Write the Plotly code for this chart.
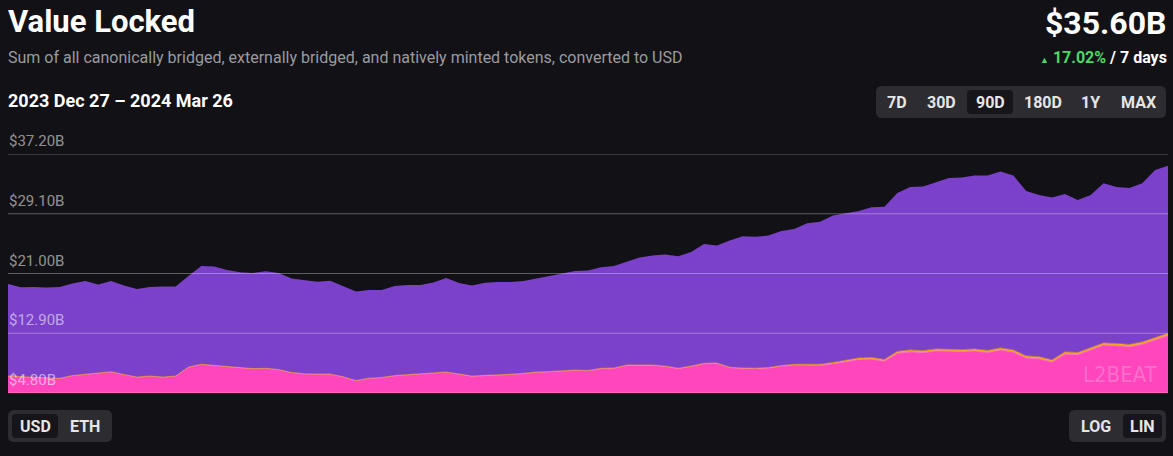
import pandas as pd
import plotly.graph_objects as go

# ---- data (USD billions) ----
dates = pd.date_range("2023-12-27", "2024-03-26", freq="D")

total = [19.58, 19.13, 19.17, 19.10, 19.17, 19.64, 19.98, 19.51, 19.98, 19.37,
         18.90, 19.17, 19.24, 19.24, 20.66, 22.02, 21.95, 21.47, 21.16, 21.07,
         21.31, 21.07, 20.32, 20.08, 19.89, 20.02, 19.31, 18.56, 18.76, 18.76,
         19.31, 19.44, 19.44, 19.78, 20.39, 19.71, 19.37, 19.74, 19.85, 19.85,
         19.98, 20.32, 20.62, 20.96, 21.34, 21.41, 21.84, 22.02, 22.60, 23.17,
         23.44, 23.58, 23.33, 23.91, 25.00, 24.80, 25.47, 26.06, 25.98, 26.15,
         26.76, 27.03, 27.81, 28.02, 28.86, 29.20, 29.47, 29.99, 30.06, 31.91,
         32.73, 32.79, 33.34, 33.95, 34.01, 34.29, 34.29, 34.83, 34.29, 32.18,
         31.64, 31.30, 31.78, 30.96, 31.64, 33.23, 32.73, 32.59, 33.23, 35.03,
         35.60]

lower_total = [7.10, 7.04, 7.01, 6.90, 6.79, 7.17, 7.31, 7.51, 7.69, 7.31,
               6.97, 7.10, 6.97, 7.10, 8.32, 8.70, 8.56, 8.43, 8.19, 8.11,
               8.15, 7.99, 7.58, 7.42, 7.38, 7.38, 7.01, 6.49, 6.81, 6.91,
               7.17, 7.27, 7.35, 7.48, 7.65, 7.38, 7.10, 7.19, 7.24, 7.34,
               7.48, 7.65, 7.71, 7.85, 7.92, 7.86, 8.15, 8.19, 8.60, 8.60,
               8.60, 8.46, 8.16, 8.46, 8.83, 8.87, 8.30, 8.19, 8.16, 8.26,
               8.53, 8.69, 8.69, 8.69, 8.93, 9.23, 9.54, 9.61, 9.34, 10.43,
               10.63, 10.53, 10.76, 10.72, 10.67, 10.76, 10.56, 10.90, 10.63, 9.82,
               9.71, 9.27, 10.36, 10.29, 10.97, 11.58, 11.51, 11.37, 11.71, 12.32,
               12.89]

externally = [0.02, 0.02, 0.02, 0.02, 0.02, 0.02, 0.02, 0.02, 0.02, 0.02,
              0.02, 0.02, 0.02, 0.02, 0.02, 0.02, 0.02, 0.02, 0.02, 0.02,
              0.02, 0.02, 0.02, 0.02, 0.02, 0.02, 0.02, 0.02, 0.02, 0.02,
              0.03, 0.03, 0.03, 0.03, 0.03, 0.03, 0.03, 0.03, 0.03, 0.03,
              0.04, 0.04, 0.04, 0.04, 0.04, 0.04, 0.04, 0.04, 0.05, 0.05,
              0.05, 0.05, 0.05, 0.05, 0.06, 0.06, 0.06, 0.06, 0.06, 0.07,
              0.08, 0.10, 0.12, 0.14, 0.16, 0.18, 0.20, 0.21, 0.22, 0.24,
              0.25, 0.25, 0.25, 0.26, 0.26, 0.26, 0.26, 0.27, 0.27, 0.27,
              0.27, 0.27, 0.28, 0.28, 0.28, 0.29, 0.29, 0.29, 0.30, 0.30,
              0.30]

natively = [lt - e for lt, e in zip(lower_total, externally)]
canonically = [t - lt for t, lt in zip(total, lower_total)]

tick_vals = [4.80, 12.90, 21.00, 29.10, 37.20]
tick_text = ["$4.80B", "$12.90B", "$21.00B", "$29.10B", "$37.20B"]
range_buttons = ["7D", "30D", "90D", "180D", "1Y", "MAX"]
range_button_x = [897, 941, 990, 1043, 1090, 1138]
unit_buttons = ["USD", "ETH"]
unit_button_x = [35, 85]
scale_buttons = ["LOG", "LIN"]
scale_button_x = [1096, 1142]

# ---- layout geometry (pixels) ----
W, H = 1173, 456
L, R, T, B = 8, 5, 154, 63
PW, PH = W - L - R, H - T - B
BG = "#121116"
FONT = "Roboto"


def px(x):
    return (x - L) / PW


def py(y):
    return (H - B - y) / PH


def rrect(x0, y0, x1, y1, r, fill):
    ax0, ax1 = px(x0), px(x1)
    ay0, ay1 = py(y0), py(y1)  # ay0 top (larger)
    rx, ry = r / PW, r / PH
    path = (f"M {ax0+rx},{ay0} L {ax1-rx},{ay0} Q {ax1},{ay0} {ax1},{ay0-ry} "
            f"L {ax1},{ay1+ry} Q {ax1},{ay1} {ax1-rx},{ay1} L {ax0+rx},{ay1} "
            f"Q {ax0},{ay1} {ax0},{ay1+ry} L {ax0},{ay0-ry} Q {ax0},{ay0} {ax0+rx},{ay0} Z")
    return dict(type="path", xref="paper", yref="paper", path=path,
                fillcolor=fill, line=dict(width=0), layer="above")


fig = go.Figure()
fig.add_trace(go.Scatter(x=dates, y=natively, stackgroup="s", name="Natively minted",
                         mode="lines", line=dict(width=1, color="#ff78c8"),
                         fillcolor="#ff46bd"))
fig.add_trace(go.Scatter(x=dates, y=externally, stackgroup="s", name="Externally bridged",
                         mode="lines", line=dict(width=0.6, color="#f5a623"),
                         fillcolor="#f5a623"))
fig.add_trace(go.Scatter(x=dates, y=canonically, stackgroup="s", name="Canonically bridged",
                         mode="lines", line=dict(width=0, color="#7c41cb"),
                         fillcolor="#7c41cb"))

shapes = []
for v in tick_vals:
    shapes.append(dict(type="line", xref="paper", yref="y", x0=0, x1=1, y0=v, y1=v,
                       line=dict(color="rgba(255,255,255,0.32)", width=1), layer="above"))

# button groups
shapes.append(rrect(876, 86, 1166, 118, 6, "#2c2c31"))
shapes.append(rrect(967, 90, 1013, 114, 4, "#16151a"))
shapes.append(rrect(8, 410, 112, 442, 6, "#2c2c31"))
shapes.append(rrect(12, 414, 58, 438, 4, "#16151a"))
shapes.append(rrect(1069, 410, 1166, 442, 6, "#2c2c31"))
shapes.append(rrect(1123, 414, 1162, 438, 4, "#16151a"))

ann = []
for v, t in zip(tick_vals, tick_text):
    ann.append(dict(x=0, xref="paper", y=v, yref="y", text=t, showarrow=False,
                    xanchor="left", yanchor="bottom", yshift=2, xshift=-1,
                    font=dict(family=FONT, size=15, color="rgba(255,255,255,0.55)")))

ann.append(dict(x=px(6), y=py(22), xref="paper", yref="paper", text="<b>Value Locked</b>",
                showarrow=False, xanchor="left", yanchor="middle",
                font=dict(family=FONT, size=31, color="#ffffff")))
ann.append(dict(x=px(6), y=py(57), xref="paper", yref="paper",
                text="Sum of all canonically bridged, externally bridged, and natively minted tokens, converted to USD",
                showarrow=False, xanchor="left", yanchor="middle",
                font=dict(family=FONT, size=16, color="#9b9ba0")))
ann.append(dict(x=px(6), y=py(101), xref="paper", yref="paper",
                text="<b>2023 Dec 27 – 2024 Mar 26</b>",
                showarrow=False, xanchor="left", yanchor="middle",
                font=dict(family=FONT, size=18, color="#ffffff")))
ann.append(dict(x=px(1169), y=py(23), xref="paper", yref="paper", text="<b>$35.60B</b>",
                showarrow=False, xanchor="right", yanchor="middle",
                font=dict(family=FONT, size=32, color="#ffffff")))
ann.append(dict(x=px(1169), y=py(57), xref="paper", yref="paper",
                text="<span style='color:#4cd964;font-size:9px'>▲</span> "
                     "<b><span style='color:#4cd964'>17.02%</span> / 7 days</b>",
                showarrow=False, xanchor="right", yanchor="middle",
                font=dict(family=FONT, size=16, color="#ffffff")))

for t, x in zip(range_buttons, range_button_x):
    ann.append(dict(x=px(x), y=py(102), xref="paper", yref="paper", text=f"<b>{t}</b>",
                    showarrow=False, xanchor="center", yanchor="middle",
                    font=dict(family=FONT, size=16, color="#e6e6e6")))
for t, x in zip(unit_buttons, unit_button_x):
    ann.append(dict(x=px(x), y=py(426), xref="paper", yref="paper", text=f"<b>{t}</b>",
                    showarrow=False, xanchor="center", yanchor="middle",
                    font=dict(family=FONT, size=16, color="#e6e6e6")))
for t, x in zip(scale_buttons, scale_button_x):
    ann.append(dict(x=px(x), y=py(426), xref="paper", yref="paper", text=f"<b>{t}</b>",
                    showarrow=False, xanchor="center", yanchor="middle",
                    font=dict(family=FONT, size=16, color="#e6e6e6")))

ann.append(dict(x=px(1160), y=py(374), xref="paper", yref="paper", text="L2BEAT",
                showarrow=False, xanchor="right", yanchor="middle",
                font=dict(family="Liberation Sans Narrow, DejaVu Sans Condensed, sans-serif",
                          size=22, color="rgba(255,255,255,0.22)")))

fig.update_layout(
    width=W, height=H,
    margin=dict(l=L, r=R, t=T, b=B),
    paper_bgcolor=BG, plot_bgcolor=BG,
    showlegend=False,
    xaxis=dict(visible=False, range=[dates[0], dates[-1]], fixedrange=True),
    yaxis=dict(range=[4.8, 37.2], showgrid=False, zeroline=False, showticklabels=False,
               fixedrange=True),
    shapes=shapes,
    annotations=ann,
    hovermode="x unified",
)

fig.write_html("out.html", config={"displayModeBar": False})
